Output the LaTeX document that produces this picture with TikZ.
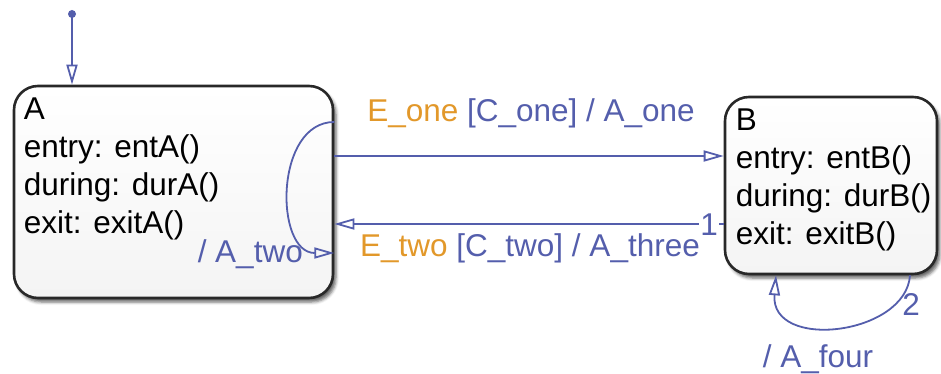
\documentclass[tikz,border=0pt]{standalone}
\usepackage{fontspec}
\setmainfont{Liberation Sans}
\usetikzlibrary{positioning,arrows.meta,shadows.blur,calc}
\definecolor{transblue}{RGB}{84,94,172}
\definecolor{eventorange}{RGB}{226,152,42}
\definecolor{stateborder}{RGB}{40,40,40}
\definecolor{statefill}{RGB}{244,244,244}
\newcommand{\evt}[1]{\textcolor{eventorange}{#1}}
\begin{document}
\begin{tikzpicture}[x=1pt,y=-1pt,every node/.style={font=\fontsize{31.5}{38}\selectfont},
  state/.style={draw=stateborder,line width=2.6pt,rounded corners=24pt,top color=white,bottom color=statefill,blur shadow={shadow xshift=3pt,shadow yshift=-4pt,shadow blur radius=3pt,shadow opacity=60}},
  actions/.style={anchor=north west,inner sep=0pt,align=left},
  trans/.style={draw=transblue,line width=1.8pt,-{Triangle[open,length=20pt,width=11pt]}},
  translabel/.style={text=transblue,inner sep=0pt,anchor=base}]
  \useasboundingbox (0,0) rectangle (941,374);
  \node[state,minimum width=319pt,minimum height=212pt] (A) at (173.5,192) {};
  \node[state,minimum width=212pt,minimum height=177pt] (B) at (831,185.5) {};
  \node[actions] (Atext) at ([xshift=11pt,yshift=-13pt]A.north west) {A\\entry: entA()\\during: durA()\\exit: exitA()};
  \node[actions] (Btext) at ([xshift=12pt,yshift=-13pt]B.north west) {B\\entry: entB()\\during: durB()\\exit: exitB()};
  \coordinate (init) at (72,14);
  \fill[transblue] (init) circle (4pt);
  \draw[trans] (init) -- (init |- A.north);
  \coordinate (a1) at ([yshift=36pt]A.east);
  \coordinate (b1) at (a1 -| B.west);
  \coordinate (a2) at ([yshift=-32pt]A.east);
  \coordinate (b2) at (a2 -| B.west);
  \draw[trans] (a1) -- (b1);
  \draw[trans] (b2) -- (a2);
  \coordinate (s1) at ([yshift=70pt]A.east);
  \coordinate (s2) at ([yshift=-61pt]A.east);
  \draw[trans] (s1) .. controls +(-60,0) and +(-60,0) .. (s2);
  \coordinate (s3) at ([xshift=79pt]B.south);
  \coordinate (s4) at ([xshift=-55pt]B.south);
  \draw[trans] (s3) .. controls +(-4,60) and +(-6,76) .. (s4);
  \node[translabel] (l1) at (531,122) {\evt{E\_one} [C\_one] / A\_one};
  \node[translabel] (l2) at (530,256) {\evt{E\_two} [C\_two] / A\_three};
  \node[translabel,anchor=base east] (l3) at (303,262) {/ A\_two};
  \node[translabel] (l4) at (818,367) {/ A\_four};
  \node[translabel,fill=white,inner sep=1pt] (o1) at (709,235) {1};
  \node[translabel] (o2) at (911,315) {2};
\end{tikzpicture}
\end{document}
